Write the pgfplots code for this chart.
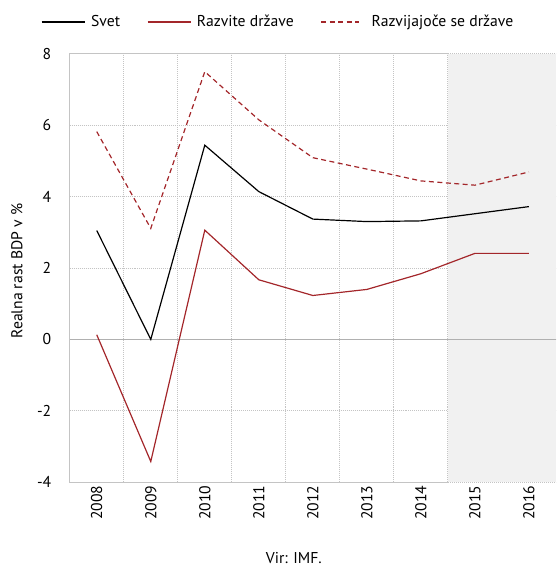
\documentclass[border=0pt]{standalone}
\usepackage{fontspec}
\setmainfont{PT Sans}
\usepackage{pgfplots}
\pgfplotsset{compat=1.18}
\definecolor{darkred}{HTML}{A3262A}
\definecolor{gridc}{HTML}{C4C4C4}
\definecolor{shade}{HTML}{F1F1F1}
\definecolor{zeroc}{HTML}{B0B0B0}
\pgfplotsset{shortleg/.style={legend image code/.code={%
  \draw[##1] (0bp,0bp) -- (38bp,0bp); \path (45bp,0bp);}}}

\begin{document}
\begin{tikzpicture}[font=\fontsize{15.8}{18}\selectfont]
\begin{axis}[
  name=ax, width=488bp, height=430bp, scale only axis,
  xmin=-0.5, xmax=8.5, ymin=-4, ymax=8,
  xtick={0,1,2,3,4,5,6,7,8},
  xticklabels={2008,2009,2010,2011,2012,2013,2014,2015,2016},
  minor xtick={0.5,1.5,2.5,3.5,4.5,5.5,6.5}, xminorgrids,
  ytick={-4,-2,0,2,4,6,8}, yticklabels={-4,-2,0,2,4,6,8}, ymajorgrids,
  grid style={gridc, dash pattern=on 1bp off 1bp, line width=0.8bp},
  minor grid style={gridc, dash pattern=on 1bp off 1bp, line width=0.8bp},
  major tick length=0pt, minor tick length=0pt,
  axis line style={draw=none},
  xticklabel style={rotate=90, anchor=east},
  yticklabel style={xshift=-15bp},
  ylabel={Realna rast BDP v \%},
  ylabel style={at={(axis description cs:-0.1086,0.493)}, anchor=center},
  xlabel={Vir: IMF.},
  xlabel style={at={(axis description cs:0.461,-0.177)}, anchor=center},
  legend columns=3,
  legend style={at={(axis description cs:-0.0594,1.0744)}, anchor=west,
    draw=none, fill=none, inner sep=0pt,
    /tikz/every odd column/.append style={column sep=3bp},
    /tikz/every even column/.append style={column sep=25bp}},
  legend cell align=left,
  legend image code/.code={\draw[#1] (0bp,0bp) -- (44bp,0bp);},
  clip=false,
]
% projection area
\addplot[fill=shade, draw=none, forget plot] coordinates {(6.5,-4) (6.5,8) (8.5,8) (8.5,-4)} -- cycle;
\addplot[zeroc, line width=1.3bp, forget plot] coordinates {(-0.5,0) (8.5,0)};
\addplot[gridc, line width=1bp, forget plot] coordinates {(6.5,8) (-0.5,8) (-0.5,-4) (6.5,-4)};

\addplot[black, line width=1.2bp] coordinates {
  (0,3.05) (1,0.0) (2,5.44) (3,4.14) (4,3.37) (5,3.30) (6,3.32) (7,3.52) (8,3.72)};
\addlegendentry{Svet}
\addplot[darkred, line width=1.2bp] coordinates {
  (0,0.13) (1,-3.42) (2,3.06) (3,1.67) (4,1.23) (5,1.40) (6,1.84) (7,2.41) (8,2.41)};
\addlegendentry{Razvite države}
\addplot[darkred, line width=1.2bp, dash pattern=on 5bp off 3.5bp, shortleg] coordinates {
  (0,5.82) (1,3.11) (2,7.50) (3,6.15) (4,5.09) (5,4.77) (6,4.44) (7,4.32) (8,4.69)};
\addlegendentry{Razvijajoče se države}
\end{axis}
\path ([shift={(-70bp,-83bp)}]ax.south west) rectangle ([shift={(1bp,54bp)}]ax.north east);
\end{tikzpicture}
\end{document}
